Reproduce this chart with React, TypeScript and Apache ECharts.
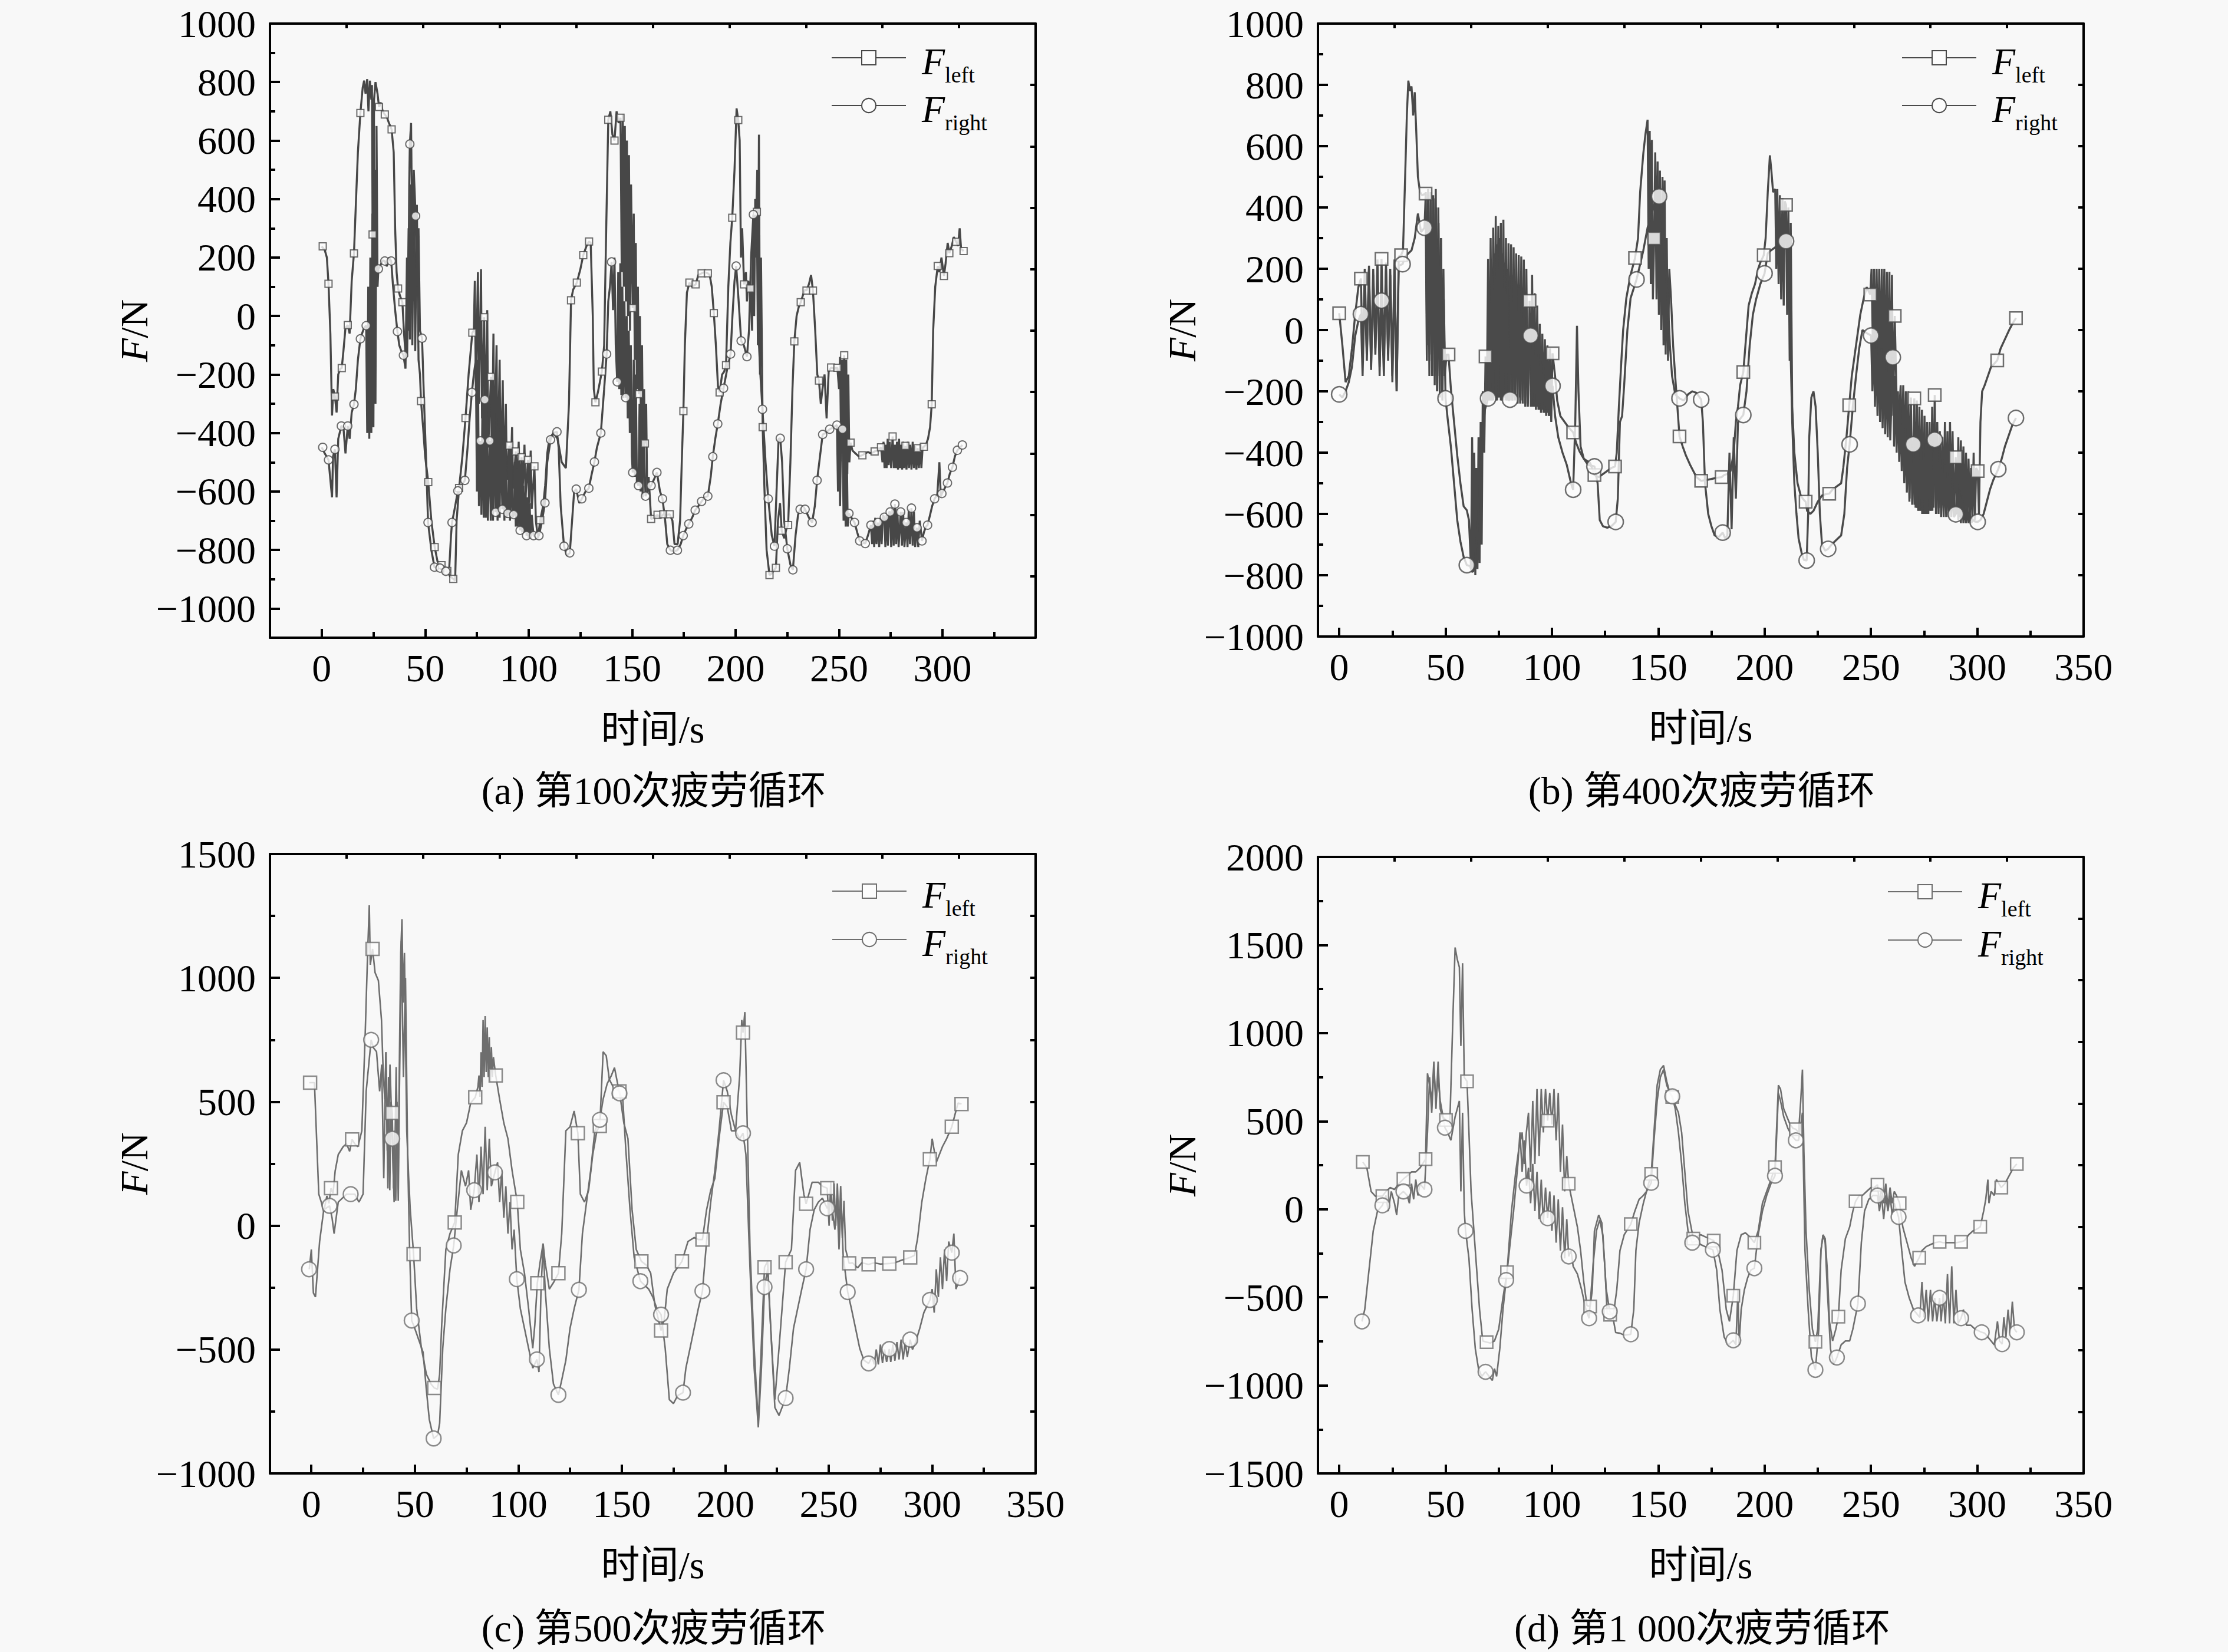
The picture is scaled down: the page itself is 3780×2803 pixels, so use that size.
import React, { useEffect, useRef } from "react";
import * as echarts from "echarts";

type P = [number, number];

// ---------- (a) 第100次 ----------
const aLeft: P[] = [[0,238],[1.5,225],[2.5,200],[3.3,110],[4.2,-60],[5,-340],[5.6,-250],[6.4,-275],[7.2,-330],[8,-200],[9,-180],[9.7,-178],[10.5,-120],[11.5,-40],[12.6,-31],[13.5,-60],[14.5,120],[15.6,214],[16.5,380],[17.5,560],[18.7,694],[19.8,780],[20.5,805],[21.2,760],[22,810],[22.6,700],[23.3,805],[24,740],[24.3,790],[24.6,279],[24.9,-380],[25.3,740],[26,800],[27,760],[27.7,715],[28.5,730],[29.5,700],[30.5,689],[31.5,680],[32.5,660],[33.8,638],[34.8,560],[35.5,300],[36.2,150],[36.9,94],[37.8,70],[39,47],[39.8,-60],[40.5,-127],[41.3,-140],[42,300],[42.6,-80],[43.2,450],[43.8,-100],[44.5,420],[45.2,-120],[46,380],[46.8,-150],[47.5,-200],[48,-291],[49,-380],[50,-480],[51.5,-568],[53,-700],[54.6,-790],[56,-840],[57.9,-852],[59.5,-860],[60.7,-872],[62,-890],[63.6,-899],[64.5,-905],[65.2,-700],[66.4,-588],[68,-480],[69.5,-349],[71,-200],[72.8,-57],[73.5,-50],[74,120],[74.5,-250],[75.5,150],[76,-300],[77,160],[77.5,-350],[78.5,-4],[79,-400],[80,20],[80.5,-450],[81.8,-208],[82.3,-500],[83,-60],[83.5,-520],[84.5,-100],[85,-540],[86,-150],[86.5,-560],[87.5,-220],[88,-560],[89,-300],[89.5,-560],[90.7,-443],[91.2,-580],[92,-380],[92.5,-590],[93.8,-463],[94.3,-600],[95.2,-430],[95.7,-600],[96.6,-483],[97.1,-600],[98,-440],[98.5,-620],[99.7,-492],[100.2,-640],[101,-460],[101.5,-660],[102.8,-514],[103.5,-700],[104.5,-760],[105.6,-698],[107,-650],[108,-580],[109,-470],[110,-420],[112,-400],[114,-420],[116,-500],[118,-520],[119.5,-300],[120.5,54],[121.5,90],[123.3,114],[125,160],[126.4,208],[128,240],[129.2,255],[130,250],[131,0],[131.5,-250],[132.3,-295],[133.5,-260],[135.4,-190],[136.5,-100],[137.5,300],[138.5,671],[139.5,700],[140.5,620],[141.5,600],[142.5,700],[143.5,660],[144.4,678],[145,150],[145.5,690],[146,100],[146.5,650],[147,50],[147.5,600],[148,0],[148.5,550],[149,-50],[149.5,450],[150.3,27],[150.8,350],[151.3,-150],[151.8,250],[152.3,-250],[152.8,100],[153.3,-267],[153.8,0],[154.3,-400],[154.8,-100],[155.3,-500],[155.8,-250],[156.2,-436],[156.8,-300],[157.3,-600],[158,-550],[159.2,-694],[160.5,-690],[162.3,-680],[163.5,-690],[165.1,-678],[166.5,-680],[168.2,-678],[169.5,-700],[170.5,-780],[172,-780],[173.2,-700],[174,-500],[174.8,-325],[175.5,-100],[176.5,80],[177.7,114],[179,100],[180.7,108],[182,140],[183.6,146],[185,150],[186.6,146],[187.5,140],[188.5,100],[189.5,10],[190.5,-100],[191.5,-240],[192.3,-261],[193.5,-200],[194.5,-190],[195.4,-168],[196.5,100],[197.5,250],[198.4,336],[199.5,500],[200.5,710],[201.3,670],[202,600],[202.6,200],[203.2,300],[204.1,108],[205,150],[205.5,50],[206.2,120],[207.2,94],[208,-50],[208.5,300],[209,0],[209.5,400],[210.3,356],[210.8,-100],[211.3,620],[211.8,-200],[212.3,200],[213.1,-380],[214,-600],[215,-800],[216.4,-886],[217.5,-880],[218.5,-870],[219.5,-861],[220.5,-700],[221.5,-640],[222.3,-734],[223.5,-760],[224.5,-730],[225.4,-715],[226.5,-500],[227.5,-250],[228.4,-87],[229.5,0],[230.5,30],[231.5,47],[232.5,70],[233.5,90],[234.3,87],[235.5,110],[236.5,140],[237.4,87],[238.5,-50],[239.5,-200],[240.3,-221],[241.2,-300],[242,-250],[243,-200],[244,-350],[245,-190],[246.2,-176],[247.5,-180],[249.2,-177],[250,-250],[250.5,-140],[251,-450],[251.5,-150],[252,-500],[252.5,-134],[253,-520],[253.5,-150],[254,-540],[254.5,-200],[255,-500],[255.6,-433],[256.5,-460],[258,-470],[259.5,-480],[261.3,-476],[262.5,-470],[264,-465],[265.5,-470],[267.2,-463],[268.5,-460],[270.3,-449],[271,-500],[271.5,-430],[272,-520],[272.5,-440],[273,-520],[273.5,-420],[274,-510],[274.5,-430],[275.2,-520],[275.9,-412],[276.5,-520],[277,-440],[277.5,-520],[278,-430],[278.5,-525],[279,-420],[279.5,-520],[280,-440],[280.5,-525],[281,-430],[281.5,-520],[282.1,-444],[282.6,-525],[283.2,-430],[283.8,-520],[284.4,-440],[285,-525],[285.6,-430],[286.2,-520],[286.8,-445],[287.4,-525],[288,-452],[288.6,-520],[289.2,-440],[289.8,-520],[290.4,-450],[291,-447],[292,-440],[293,-420],[294,-380],[294.8,-302],[295.5,-50],[296.5,100],[297.7,171],[298.5,150],[299.5,200],[300.7,137],[301.5,180],[302.5,250],[303.3,215],[304.5,240],[305.5,270],[306.6,254],[307.5,240],[308.3,300],[309,230],[310.2,222]];
const aLeftMarks: P[] = [[0.5,238],[3.3,110],[6.4,-275],[9.7,-178],[12.6,-31],[15.6,214],[18.7,694],[24.6,279],[27.7,715],[30.5,689],[33.8,638],[36.9,94],[39,47],[48,-291],[51.5,-568],[54.6,-790],[57.9,-852],[60.7,-872],[63.6,-899],[66.4,-588],[69.5,-349],[72.8,-57],[78.5,-4],[81.8,-208],[90.7,-443],[93.8,-463],[96.6,-483],[99.7,-492],[102.8,-514],[105.6,-698],[120.5,54],[123.3,114],[126.4,208],[129.2,255],[132.3,-295],[135.4,-190],[138.5,671],[141.5,600],[144.4,678],[150.3,27],[153.3,-267],[156.2,-436],[159.2,-694],[162.3,-680],[165.1,-678],[168.2,-678],[174.8,-325],[177.7,114],[180.7,108],[183.6,146],[186.6,146],[189.5,10],[192.3,-261],[195.4,-168],[198.4,336],[201.3,670],[204.1,108],[207.2,94],[210.3,356],[213.1,-380],[216.4,-886],[219.5,-861],[222.3,-734],[225.4,-715],[228.4,-87],[231.5,47],[234.3,87],[237.4,87],[240.3,-221],[246.2,-176],[249.2,-177],[252.5,-134],[255.6,-433],[261.3,-476],[267.2,-463],[270.3,-449],[275.9,-412],[282.1,-444],[288,-452],[291,-447],[294.8,-302],[297.7,171],[300.7,137],[303.3,215],[306.6,254],[310.2,222]];
const aRight: P[] = [[0,-449],[1.5,-470],[3.3,-492],[4.2,-560],[5,-620],[5.5,-480],[6.4,-456],[7.2,-620],[8,-420],[9.5,-376],[10.5,-380],[11.5,-470],[12.6,-376],[13.5,-420],[14.5,-330],[15.6,-302],[16.5,-250],[17.5,-150],[18.7,-78],[19.5,-60],[20.5,-40],[21.5,-33],[22,-400],[22.5,100],[23,-420],[23.5,200],[24,-400],[24.5,350],[25,-380],[25.5,500],[26,-300],[26.5,650],[27,100],[27.4,161],[28.5,175],[29.5,190],[30.5,188],[31.5,170],[32.5,200],[33.6,188],[34.5,100],[35.5,20],[36.6,-53],[37.5,-100],[38.5,-120],[39.5,-134],[40.5,-180],[41.2,200],[41.8,-50],[42.3,450],[42.6,588],[43.2,660],[43.8,200],[44.5,500],[45.4,342],[46,100],[46.8,300],[47.5,-50],[48.5,-76],[49.5,-300],[50.5,-500],[51.4,-706],[53,-800],[54.5,-859],[56,-860],[57.2,-862],[58.5,-870],[60,-873],[61.5,-880],[62.5,-750],[63,-706],[64.5,-650],[65.8,-598],[67.5,-580],[69.2,-562],[70.5,-450],[71.5,-350],[72.6,-261],[73.5,-200],[74.5,-150],[75,-600],[75.5,-150],[76,-650],[76.7,-427],[77.2,-680],[77.8,-200],[78.3,-690],[78.8,-286],[79.3,-690],[79.8,-250],[80.3,-700],[81.2,-427],[81.7,-700],[82.3,-300],[82.8,-700],[83.3,-320],[84,-671],[84.5,-350],[85,-700],[85.5,-380],[86,-690],[86.5,-400],[87.3,-661],[87.8,-420],[88.3,-700],[88.8,-450],[89.4,-690],[90,-675],[90.5,-460],[91,-700],[91.5,-480],[92.2,-690],[92.8,-679],[93.3,-500],[93.8,-720],[94.3,-520],[94.8,-720],[95.3,-540],[95.9,-733],[96.4,-560],[96.9,-740],[97.4,-580],[98,-740],[98.5,-600],[99,-751],[99.5,-620],[100,-760],[100.5,-640],[101,-760],[101.5,-680],[102.4,-751],[103.5,-755],[105,-751],[106.5,-700],[107.9,-639],[109,-500],[110.6,-423],[112,-400],[113.7,-396],[114.5,-450],[115.5,-650],[117.1,-787],[118.5,-820],[119.9,-810],[121,-700],[122,-600],[123,-592],[124.5,-640],[125.7,-625],[127.5,-600],[129.1,-589],[130.5,-540],[131.8,-499],[133,-450],[134.9,-400],[136.5,-250],[137.7,-130],[138.5,50],[139.3,100],[140.1,185],[140.8,20],[141.5,200],[142.1,-100],[142.8,-225],[143.3,150],[143.8,-250],[144.3,180],[144.8,-270],[145.3,100],[145.8,-280],[146.3,50],[146.9,-279],[147.4,0],[147.9,-350],[148.4,-50],[148.9,-400],[149.4,-100],[149.9,-480],[150.3,-535],[150.8,-150],[151.3,-550],[151.8,-200],[152.3,-570],[153.1,-580],[153.6,-300],[154.1,-600],[154.6,-350],[155.1,-620],[155.6,-400],[156.5,-616],[157.5,-600],[159.2,-580],[160.5,-560],[162,-535],[163.5,-600],[164.7,-625],[166,-700],[167,-780],[168.5,-801],[170,-805],[171.9,-801],[173.5,-780],[174.7,-751],[176,-730],[177.4,-711],[179,-690],[180.5,-664],[182,-650],[183.6,-634],[185,-620],[186.6,-616],[188,-550],[189,-481],[190.2,-420],[191.4,-369],[192.8,-300],[194.2,-247],[196,-180],[197.6,-130],[198.5,0],[199.5,120],[200.3,171],[201.5,50],[202.7,-85],[204,-100],[205.5,-139],[206.5,-50],[207.5,200],[208.6,347],[209.5,200],[210.5,500],[211,-50],[212,-200],[213,-319],[214.5,-500],[215.8,-625],[217.5,-750],[218.8,-787],[219.8,-600],[220.8,-420],[221.6,-418],[222.5,-500],[223.5,-700],[225,-796],[226.5,-850],[227.7,-868],[229,-750],[230.2,-680],[231.2,-661],[232.5,-650],[233.6,-661],[235.5,-690],[237,-706],[238.3,-650],[239.4,-562],[240.8,-480],[242.1,-405],[243.5,-400],[245.5,-387],[247.5,-380],[249,-373],[249.5,-600],[250,-380],[250.5,-650],[251,-390],[251.7,-387],[252.2,-700],[252.7,-400],[253.2,-720],[253.7,-420],[254.2,-720],[254.8,-675],[256,-690],[257.5,-706],[258.8,-740],[260,-769],[261.5,-775],[262.7,-778],[264,-750],[265.4,-715],[266,-780],[266.5,-700],[267,-790],[267.5,-690],[268.1,-780],[268.8,-706],[269.4,-790],[270,-690],[270.6,-780],[271.2,-680],[271.9,-688],[272.4,-790],[273,-680],[273.6,-785],[274.2,-670],[274.7,-670],[275.2,-790],[275.8,-660],[276.4,-785],[277,-643],[277.6,-780],[278.2,-660],[278.8,-790],[279.8,-670],[280.4,-785],[281,-670],[281.6,-790],[282.5,-706],[283.1,-790],[283.7,-660],[284.3,-780],[285,-657],[285.6,-785],[286.2,-670],[286.8,-790],[287.7,-724],[288.3,-790],[289,-700],[290.1,-769],[291,-740],[292,-720],[292.8,-715],[294,-680],[295,-650],[296.2,-625],[297.5,-610],[298.5,-500],[299.2,-620],[299.7,-607],[301,-590],[302.4,-571],[303.5,-540],[304.8,-517],[306,-480],[307.2,-459],[308.5,-450],[309.6,-441]];
const aRightMarks: P[] = [[0.5,-449],[3.3,-492],[6.4,-456],[9.5,-376],[12.6,-376],[15.6,-302],[18.7,-78],[21.5,-33],[27.4,161],[30.5,188],[33.6,188],[36.6,-53],[39.5,-134],[42.6,588],[45.4,342],[48.5,-76],[51.4,-706],[54.5,-859],[57.2,-862],[60,-873],[63,-706],[65.8,-598],[69.2,-562],[72.6,-261],[76.7,-427],[78.8,-286],[81.2,-427],[84,-671],[87.3,-661],[90,-675],[92.8,-679],[95.9,-733],[99,-751],[102.4,-751],[105,-751],[107.9,-639],[110.6,-423],[113.7,-396],[117.1,-787],[119.9,-810],[123,-592],[125.7,-625],[129.1,-589],[131.8,-499],[134.9,-400],[137.7,-130],[140.1,185],[142.8,-225],[146.9,-279],[150.3,-535],[153.1,-580],[156.5,-616],[159.2,-580],[162,-535],[164.7,-625],[168.5,-801],[171.9,-801],[174.7,-751],[177.4,-711],[180.5,-664],[183.6,-634],[186.6,-616],[189,-481],[191.4,-369],[194.2,-247],[197.6,-130],[200.3,171],[202.7,-85],[205.5,-139],[208.6,347],[213,-319],[215.8,-625],[218.8,-787],[221.6,-418],[225,-796],[227.7,-868],[231.2,-661],[233.6,-661],[237,-706],[239.4,-562],[242.1,-405],[245.5,-387],[249,-373],[251.7,-387],[254.8,-675],[257.5,-706],[260,-769],[262.7,-778],[265.4,-715],[268.8,-706],[271.9,-688],[274.7,-670],[277,-643],[279.8,-670],[282.5,-706],[285,-657],[287.7,-724],[290.1,-769],[292.8,-715],[296.2,-625],[299.7,-607],[302.4,-571],[304.8,-517],[307.2,-459],[309.6,-441]];

// ---------- (b) 第400次 ----------
const bLeft: P[] = [[0,55],[1.5,-50],[3,-170],[4.5,-150],[6,-60],[7.5,50],[9,140],[10.2,168],[11,-100],[12,200],[13,-80],[14,210],[15,-120],[16,200],[17,-60],[18,230],[19,-150],[19.9,232],[21,-100],[22,220],[23,-80],[24,200],[25,-150],[26,230],[27,-200],[28,240],[29.1,244],[30,260],[31,500],[31.8,700],[32.5,814],[33.3,780],[34,795],[34.8,700],[35.5,776],[36.2,654],[37,500],[38,450],[39,440],[40.6,445],[41.2,-100],[41.8,460],[42.4,-150],[43,450],[43.6,-80],[44.2,440],[44.8,-150],[45.4,460],[46,-200],[46.6,400],[47.2,-150],[47.8,300],[48.4,-200],[49,200],[49.6,-150],[50.5,-80],[51.4,-80],[52.5,-191],[54,-300],[55.5,-409],[57,-500],[58.5,-575],[60,-588],[61,-620],[62,-780],[62.5,-350],[63,-790],[63.5,-400],[64,-800],[64.5,-450],[65,-780],[65.5,-350],[66,-760],[66.5,-300],[67,-700],[67.5,-200],[68.2,-400],[68.8,-86],[69.4,-230],[70,232],[70.6,-230],[71.2,300],[71.8,-230],[72.4,334],[73,-220],[73.6,372],[74.2,-230],[74.8,340],[75.4,-220],[76,350],[76.6,-230],[77.2,360],[77.8,-220],[78.4,300],[79,-230],[79.6,283],[80.2,-220],[80.8,280],[81.4,-230],[82,270],[82.6,-220],[83.2,250],[83.8,-230],[84.4,244],[85,-220],[85.6,240],[86.2,-230],[86.8,230],[87.4,-220],[88,200],[88.6,-240],[89.5,95],[90.1,-250],[90.7,180],[91.3,-250],[91.9,120],[92.5,-260],[93.1,80],[93.7,-260],[94.3,20],[94.9,-270],[95.5,-12],[96.1,-270],[96.7,-30],[97.3,-280],[97.9,-50],[98.5,-280],[99.1,-60],[99.7,-300],[100.3,-76],[101.5,-150],[102.5,-230],[104,-281],[106,-300],[108,-319],[110,-334],[111.5,-370],[113,-396],[115,-420],[118,-434],[120,-473],[122,-480],[124,-470],[126,-460],[128,-450],[129.7,-445],[130.5,-400],[131.5,-250],[132.5,-120],[133.5,0],[135,104],[137,180],[139.1,235],[140.5,300],[141.5,450],[143,577],[144,640],[145,686],[145.5,200],[146,650],[146.5,150],[147,620],[147.5,100],[148.1,299],[148.6,580],[149.2,100],[149.7,550],[150.3,50],[150.8,520],[151.4,0],[152,500],[152.5,-50],[153,488],[153.5,-80],[154,300],[154.6,-100],[155.2,200],[156,104],[157,-50],[158,-153],[159,-250],[160,-347],[161.5,-380],[163,-409],[165,-440],[166.5,-460],[168,-480],[170.2,-492],[172,-490],[175,-486],[177.5,-482],[179.8,-480],[181,-473],[182.5,-470],[184,-460],[185.5,-400],[186.5,-300],[187.5,-250],[188.5,-180],[190,-137],[191,-50],[192.5,80],[194,120],[195.5,150],[197,200],[198,220],[199.6,244],[200.5,300],[201.5,450],[202.5,570],[203.2,520],[204,450],[205,460],[205.5,200],[206,460],[206.6,150],[207.2,440],[207.8,100],[208.4,430],[209,80],[209.5,420],[210.1,408],[210.6,50],[211.2,400],[211.8,-100],[212.3,350],[213,-250],[214,-400],[215.5,-500],[217,-540],[218.5,-555],[219.3,-560],[220,-590],[221.5,-600],[223,-590],[225,-560],[227,-540],[229,-535],[230.4,-534],[232,-520],[234,-510],[236,-500],[237,-450],[238.5,-350],[239.8,-245],[241,-150],[242,-100],[243,-50],[244,0],[245,50],[246.5,100],[248,140],[249.7,116],[250.3,200],[250.9,-50],[251.5,200],[252.1,-80],[252.7,200],[253.3,-100],[253.9,200],[254.5,-150],[255.1,200],[255.7,-120],[256.3,200],[256.9,-200],[257.5,190],[258.1,-220],[258.7,190],[259.3,-250],[259.9,180],[260.5,-280],[261.2,46],[262,-200],[263,-300],[264,-180],[264.6,-400],[265.2,-180],[265.8,-450],[266.4,-200],[267,-500],[267.6,-200],[268.2,-550],[268.8,-220],[269.4,-570],[270.4,-223],[271,-580],[271.6,-230],[272.2,-590],[272.8,-250],[273.4,-590],[274,-260],[274.6,-600],[275.2,-280],[275.8,-600],[276.4,-300],[277,-600],[277.6,-300],[278.2,-590],[278.8,-250],[279.4,-580],[280,-212],[280.6,-580],[281.2,-300],[281.8,-580],[282.4,-330],[283,-580],[283.6,-350],[284.2,-580],[284.8,-300],[285.4,-580],[286,-330],[286.6,-590],[287.2,-300],[287.8,-590],[288.4,-330],[289,-600],[289.9,-415],[290.5,-600],[291.1,-350],[291.7,-610],[292.3,-360],[292.9,-610],[293.5,-380],[294.1,-620],[294.7,-400],[295.3,-620],[295.9,-420],[296.5,-620],[297.1,-450],[297.7,-620],[298.3,-400],[298.9,-620],[299.5,-450],[300.2,-460],[300.8,-600],[301.5,-300],[302.3,-200],[303.5,-180],[305,-150],[306.5,-120],[308,-110],[309.4,-99],[311,-60],[313,-30],[315,0],[316.5,20],[318.2,39]];
const bLeftMarks: P[] = [[0,55],[10.2,168],[19.9,232],[29.1,244],[40.6,445],[51.4,-80],[68.8,-86],[89.5,95],[100.3,-76],[110,-334],[120,-473],[129.7,-445],[139.1,235],[148.1,299],[160,-347],[170.2,-492],[179.8,-480],[190,-137],[199.6,244],[210.1,408],[219.3,-560],[230.4,-534],[239.8,-245],[249.7,116],[261.2,46],[270.4,-223],[280,-212],[289.9,-415],[300.2,-460],[309.4,-99],[318.2,39]];
const bRight: P[] = [[0,-210],[1.5,-220],[3,-200],[4.5,-170],[6,-120],[7.5,-20],[9,30],[10.2,52],[11,-150],[12,150],[13,-100],[14,200],[15,-130],[16,180],[17,-80],[18,190],[19,-120],[19.9,96],[21,-150],[22,200],[23,-100],[24,180],[25,-170],[26,200],[27,-200],[28,210],[29.8,215],[31,240],[32.5,250],[34,260],[35.5,300],[37,380],[38.5,320],[40.1,334],[40.7,450],[41.3,-50],[41.9,440],[42.5,-100],[43.1,450],[43.7,-150],[44.3,430],[44.9,-180],[45.5,400],[46.1,-200],[46.7,350],[47.3,-220],[47.9,300],[48.5,-230],[49.2,100],[50,-223],[51,-290],[52.5,-380],[54,-500],[55.5,-620],[57,-690],[58.5,-740],[60,-767],[61.5,-770],[62.5,-790],[63.5,-780],[64.5,-700],[65.5,-600],[66.5,-450],[67.5,-330],[68.5,-260],[70,-223],[70.6,150],[71.2,-230],[71.8,200],[72.4,-230],[73,250],[73.6,-230],[74.2,280],[74.8,-220],[75.4,300],[76,-230],[76.6,250],[77.2,-230],[77.8,220],[78.4,-230],[79,200],[79.6,-230],[80.3,-227],[80.9,180],[81.5,-230],[82.1,160],[82.7,-230],[83.3,150],[83.9,-240],[84.5,140],[85.1,-240],[85.7,130],[86.3,-240],[86.9,100],[87.5,-250],[88.1,50],[88.7,-250],[89.3,0],[90,-18],[90.6,-250],[91.2,-30],[91.8,-250],[92.4,-50],[93,-250],[93.6,-80],[94.2,-260],[94.8,-100],[95.4,-260],[96,-120],[96.6,-270],[97.2,-150],[97.8,-270],[98.4,-160],[99,-280],[100.3,-182],[101.5,-280],[103,-350],[105,-400],[107,-440],[109,-500],[110,-521],[111,-300],[111.8,14],[112.5,-200],[113.5,-380],[115,-420],[117,-440],[120,-445],[121.5,-500],[122.5,-620],[124,-640],[126,-645],[128,-640],[130,-626],[131,-550],[132,-300],[133,-281],[134,-178],[135.5,0],[137,104],[139.8,165],[141,200],[143,260],[145,334],[147,380],[148.5,420],[150.4,436],[151.5,380],[152.5,283],[153.5,200],[154.5,100],[155.5,-50],[156.5,-150],[158,-210],[160,-223],[162,-230],[164,-210],[166,-200],[168,-205],[170.2,-227],[171,-300],[172,-500],[173.5,-600],[175,-640],[176.5,-670],[178.5,-675],[180.3,-661],[181.5,-680],[182.5,-670],[183.5,-400],[184.5,-650],[185.5,-350],[186.5,-550],[187.5,-300],[188.5,-290],[190,-277],[191.5,-200],[193,-50],[194.5,50],[196,100],[198,150],[200,185],[201.5,250],[203,260],[205,270],[206.5,280],[208,285],[210.1,290],[211,250],[212,0],[213,-300],[214,-500],[215,-600],[216,-680],[217.5,-730],[218.5,-750],[219.8,-752],[220.5,-600],[221,-350],[222,-220],[223,-200],[224,-250],[225,-400],[226,-600],[227,-700],[228.5,-720],[229.9,-714],[231.5,-700],[233,-690],[234.5,-680],[236,-670],[237.5,-600],[238.8,-450],[240,-373],[241.5,-250],[243,-150],[244.5,-60],[246,0],[248,-10],[250.1,-18],[250.7,-200],[251.3,0],[251.9,-250],[252.5,-20],[253.1,-280],[253.7,-40],[254.3,-300],[254.9,-60],[255.5,-320],[256.1,-70],[256.7,-340],[257.3,-80],[257.9,-350],[258.5,-85],[259.1,-360],[260.3,-89],[260.9,-380],[261.5,-150],[262.1,-400],[262.7,-200],[263.3,-430],[263.9,-250],[264.5,-460],[265.1,-300],[265.7,-500],[266.3,-320],[266.9,-530],[267.5,-340],[268.1,-560],[268.7,-360],[269.9,-373],[270.5,-570],[271.1,-380],[271.7,-580],[272.3,-380],[272.9,-590],[273.5,-380],[274.1,-600],[274.7,-370],[275.3,-600],[275.9,-370],[276.5,-600],[277.1,-360],[277.7,-590],[278.3,-360],[278.9,-590],[280,-358],[280.6,-600],[281.2,-380],[281.8,-600],[282.4,-400],[283,-610],[283.6,-420],[284.2,-610],[284.8,-440],[285.4,-610],[286,-460],[286.6,-610],[287.2,-480],[287.8,-610],[288.4,-500],[289,-610],[289.9,-601],[290.5,-500],[291.1,-620],[291.7,-520],[292.3,-630],[292.9,-540],[293.5,-630],[294.1,-560],[294.7,-630],[295.3,-580],[295.9,-630],[296.5,-600],[297.1,-630],[298,-620],[299,-625],[300.2,-626],[301.5,-620],[303,-600],[304.5,-560],[306,-520],[307.5,-490],[309.9,-454],[311.5,-420],[313,-380],[315,-340],[316.5,-310],[318.2,-287]];
const bRightMarks: P[] = [[0,-210],[10.2,52],[19.9,96],[29.8,215],[40.1,334],[50,-223],[60,-767],[70,-223],[80.3,-227],[90,-18],[100.3,-182],[110,-521],[120,-445],[130,-626],[139.8,165],[150.4,436],[160,-223],[170.2,-227],[180.3,-661],[190,-277],[200,185],[210.1,290],[219.8,-752],[229.9,-714],[240,-373],[250.1,-18],[260.3,-89],[269.9,-373],[280,-358],[289.9,-601],[300.2,-626],[309.9,-454],[318.2,-287]];

// ---------- (c) 第500次 ----------
const cLeft: P[] = [[-1,577],[1.5,577],[2.4,383],[3.6,127],[4.8,95],[6,56],[7.5,120],[8.5,90],[9.5,151],[10.5,130],[11.5,220],[13,287],[15.4,319],[17,330],[18.5,300],[19.7,348],[21,330],[22.5,319],[24.4,383],[26,766],[27.2,1101],[28,1293],[28.5,1053],[29.6,1117],[30.8,1021],[32.4,989],[33.9,830],[34.8,600],[35.5,510],[36.1,700],[36.7,303],[37.3,600],[37.9,143],[38.5,500],[39.1,455],[39.7,150],[40.2,383],[40.8,100],[41.4,500],[42,200],[42.6,700],[43.2,1100],[43.8,1237],[44.4,900],[45,1101],[45.6,700],[46.1,383],[47,200],[47.8,64],[49.4,-115],[50.9,-335],[53.2,-495],[55.6,-600],[57.9,-640],[59.4,-655],[61,-660],[62,-600],[63,-400],[65,-96],[67,-32],[69.3,13],[71,287],[73,383],[75,415],[77,495],[79.2,518],[80.5,560],[81,606],[81.5,520],[82,700],[82.5,560],[83,830],[83.5,600],[84,846],[84.5,620],[85,800],[85.5,600],[86,760],[86.5,580],[87,720],[87.5,600],[88,680],[89.1,606],[91,510],[93,415],[95,351],[97,223],[99.5,96],[101,-96],[103,-192],[105,-335],[107,-495],[108,-400],[109.2,-232],[110.5,-150],[112,-72],[113,-150],[115,-256],[117,-230],[119.4,-192],[121,-32],[123,383],[125,399],[127,463],[128.8,373],[130,127],[132,95],[134,143],[136,287],[138,383],[139.4,402],[141,702],[142.5,686],[144,590],[146,558],[148.9,542],[151,415],[153,351],[155,64],[157,-96],[159.5,-144],[162,-160],[164,-192],[166,-320],[169,-423],[170.5,-380],[172,-256],[175,-192],[179.1,-144],[182,-64],[185,-48],[187,-56],[189,-56],[191,64],[193,143],[195,191],[197,351],[199.2,498],[201,479],[203,383],[205,383],[207,606],[208,830],[208.6,779],[209.5,862],[210.5,463],[212,-96],[214,-495],[216,-798],[217,-575],[219,-168],[220.5,-144],[222,-415],[224,-702],[226,-495],[229.2,-147],[232,-96],[234,223],[236,255],[238,127],[239.1,88],[242,175],[245,175],[247,159],[249.3,151],[250.2,0],[251,175],[251.8,20],[252.6,170],[253.4,0],[254.2,170],[255,-20],[255.8,160],[256.6,-50],[257.4,100],[258.2,-96],[259.9,-152],[261.5,-150],[264,-170],[266,-150],[269.3,-156],[272,-150],[275,-155],[279.3,-153],[282,-150],[285,-140],[289.4,-128],[291.5,-120],[293,-50],[295,95],[297,191],[298.9,268],[300,351],[302,255],[305,319],[307,351],[309.5,399],[311,447],[312.5,495],[314.2,491]];
const cLeftMarks: P[] = [[-0.6,577],[9.5,151],[19.7,348],[29.6,1117],[39.1,455],[49.4,-115],[59.4,-655],[69.3,13],[79.2,518],[89.1,606],[99.5,96],[109.2,-232],[119.4,-192],[128.8,373],[139.4,402],[148.9,542],[159.5,-144],[169,-423],[179.1,-144],[189,-56],[199.2,498],[208.6,779],[219,-168],[229.2,-147],[239.1,88],[249.3,151],[259.9,-152],[269.3,-156],[279.3,-153],[289.4,-128],[298.9,268],[309.5,399],[314.2,491]];
const cRight: P[] = [[-1,-176],[0,-96],[1,-272],[2,-288],[4,-64],[6,64],[8.8,80],[10,32],[11,-32],[13,95],[15,111],[17,127],[19,127],[21,127],[23,95],[25,127],[26.5,542],[28.9,750],[30,718],[31.5,702],[33,542],[34,650],[35,191],[36,700],[37,150],[38,650],[39.1,351],[40,95],[41,640],[42,100],[42.5,500],[43.5,1150],[44.5,600],[45.5,1000],[46.5,300],[47.5,-100],[48.5,-383],[50,-415],[52,-463],[54,-511],[55.5,-655],[57,-782],[59.1,-859],[61,-846],[62,-798],[63.5,-495],[65,-335],[67,-176],[68.8,-80],[70.5,64],[72.5,223],[74.5,159],[76,223],[77,64],[78.7,143],[80,287],[81,95],[82,319],[83,127],[84,399],[85,143],[86,351],[87,159],[88.7,215],[90,255],[91,95],[92,223],[93,32],[94,159],[95,-32],[96,95],[97,-96],[98,-16],[99.3,-216],[101,-335],[103,-415],[105,-495],[107,-575],[109,-540],[110,-591],[111,-256],[112,-80],[113,-256],[115,-495],[117,-639],[119.4,-683],[121,-623],[123,-543],[125,-415],[127,-335],[129.3,-259],[131,-32],[133,95],[135,223],[137,383],[139.4,427],[141,510],[143,574],[145,606],[146.5,638],[148.9,534],[150.5,510],[152,303],[154,64],[156,-128],[159,-224],[161,-240],[163,-256],[165,-288],[167,-335],[169,-359],[171,-495],[173,-702],[175,-718],[177,-686],[179.6,-674],[181,-575],[183,-495],[185,-415],[187,-335],[189,-264],[191,-64],[193,95],[195,223],[197,383],[199.2,587],[201,542],[203,447],[205,383],[207,351],[208.6,373],[210,287],[212,-176],[214,-575],[216,-814],[217.5,-575],[219,-248],[220.5,-176],[222,-415],[224,-734],[226,-766],[229.2,-696],[231,-575],[233,-415],[235,-335],[237,-256],[239.1,-176],[241,-16],[243,64],[245,95],[247,111],[249.3,70],[251,111],[253,-16],[254,110],[255,-96],[256,110],[257,-120],[259.2,-268],[261,-335],[263,-415],[265,-495],[267,-543],[269.3,-556],[271,-530],[272,-560],[273,-500],[274,-560],[275,-480],[276,-555],[277,-500],[278,-550],[279.3,-498],[280,-550],[281,-480],[282,-545],[283,-470],[284,-540],[285,-460],[286,-540],[287,-470],[288,-530],[289.4,-460],[290.5,-500],[292,-470],[294,-415],[296,-351],[298.9,-300],[300,-256],[301,-351],[302,-176],[303,-288],[304,-128],[305,-256],[306,-96],[307,-224],[308,-64],[309.5,-109],[310.5,-32],[311.5,-256],[313.5,-211]];
const cRightMarks: P[] = [[-1.1,-176],[8.8,80],[19,127],[28.9,750],[39.1,351],[48.5,-383],[59.1,-859],[68.8,-80],[78.7,143],[88.7,215],[99.3,-216],[109,-540],[119.4,-683],[129.3,-259],[139.4,427],[148.9,534],[159,-224],[169,-359],[179.6,-674],[189,-264],[199.2,587],[208.6,373],[219,-248],[229.2,-696],[239.1,-176],[249.3,70],[259.2,-268],[269.3,-556],[279.3,-498],[289.4,-460],[298.9,-300],[309.5,-109],[313.5,-211]];

// ---------- (d) 第1 000次 ----------
const dLeft: P[] = [[11.1,268],[13,235],[15,101],[17,74],[20.3,74],[22,101],[24,123],[26,112],[28,145],[30.2,172],[32,190],[34,212],[36,212],[38,235],[40.6,284],[41.5,771],[42.5,704],[43.5,615],[44.5,838],[45.5,570],[46.5,838],[47.5,570],[48.5,525],[50.2,507],[52,481],[53.5,1106],[54.5,1486],[55.5,1419],[56.5,1374],[57.2,927],[58,1397],[58.8,749],[60.1,726],[61,436],[62,101],[64,-235],[66,-570],[67.5,-748],[69.3,-755],[71,-760],[73,-748],[75,-681],[77,-503],[78.9,-357],[81,-11],[83,212],[84.5,347],[86,436],[87,257],[88,436],[89,548],[90,212],[91,615],[92,257],[93,682],[94,302],[95,682],[96,436],[97,682],[98,503],[99,660],[100,481],[101,682],[102,391],[103,660],[104,212],[105,481],[106,101],[107,302],[107.9,145],[109,78],[110.5,-11],[112,-101],[113.5,-235],[115,-413],[116.5,-547],[118,-552],[119,-458],[120,-123],[121,-78],[122,-33],[123.5,-78],[125,-346],[126,-592],[127.4,-599],[129,-592],[130.5,-458],[132,-235],[134,-145],[137.1,-85],[139,-11],[141,56],[143,78],[144.5,101],[146.7,201],[148,436],[149.5,704],[151,793],[152.5,816],[154,726],[155.5,659],[156.6,637],[158,592],[159.5,548],[161,436],[162.5,212],[164,-11],[166.5,-167],[168,-156],[170,-145],[172,-156],[174,-167],[176.1,-178],[178,-235],[180,-346],[182,-570],[183.5,-637],[185.3,-491],[187,-235],[189,-145],[191,-134],[193,-156],[195.2,-190],[197,-123],[199,34],[201,101],[203,168],[204.9,239],[206.5,704],[207.5,682],[209,570],[210.5,525],[212,481],[213.5,458],[214.7,454],[216,436],[217,615],[217.8,793],[218.5,324],[219.5,-123],[221,-458],[222.5,-681],[223.9,-753],[225,-681],[226.5,-235],[227.5,-145],[228.5,-167],[229.5,-346],[230.5,-637],[232,-748],[233.5,-681],[234.7,-610],[236,-346],[238,-167],[240,-101],[241.5,-11],[242.8,45],[244.5,78],[246,78],[248,101],[250,123],[251.5,123],[253.1,139],[254,34],[255,123],[256,34],[257,145],[258,11],[259,123],[260,34],[261,101],[262,78],[263.5,34],[265,-101],[267,-190],[269,-279],[270.5,-324],[272.7,-275],[274,-235],[276,-212],[278,-201],[280,-190],[282.3,-185],[284,-190],[286,-190],[288,-190],[290,-190],[292.4,-185],[294,-178],[296,-145],[298,-123],[300,-112],[301.4,-100],[303,-11],[304,56],[305,168],[305.5,34],[306.5,101],[308,78],[309,168],[311.3,123],[313,145],[315,190],[317,235],[318.6,257]];
const dLeftMarks: P[] = [[11.1,268],[20.3,74],[30.2,172],[40.6,284],[50.2,507],[60.1,726],[69.3,-755],[78.9,-357],[98,503],[107.9,145],[118,-552],[127.4,-599],[137.1,-85],[146.7,201],[156.6,637],[166.5,-167],[176.1,-178],[185.3,-491],[195.2,-190],[204.9,239],[214.7,454],[223.9,-753],[234.7,-610],[242.8,45],[253.1,139],[263.5,34],[272.7,-275],[282.3,-185],[292.4,-185],[301.4,-100],[311.3,123],[318.6,257]];
const dRight: P[] = [[10.7,-637],[12,-570],[14,-346],[16,-123],[18,-11],[20.3,22],[22,78],[23,-11],[24.5,101],[26,34],[27,-33],[28,78],[30.2,101],[32,78],[33,34],[34,145],[35,56],[36,168],[37,78],[38,145],[40.1,112],[41.5,436],[42.5,749],[43.5,548],[44.5,793],[45.5,615],[46.5,749],[47.5,615],[48.5,548],[49.7,463],[51,436],[52.5,391],[53.5,458],[54.5,525],[55.5,570],[56.5,615],[57.2,101],[58,548],[58.8,-11],[59.4,-123],[61,-279],[62.5,-570],[64,-793],[65.5,-905],[67,-949],[68.8,-923],[70.5,-949],[72,-972],[73,-905],[74,-949],[75.5,-793],[77,-570],[78.5,-402],[80,-235],[82,-11],[84,257],[85,436],[86,212],[87,391],[88.1,134],[89,235],[90,34],[91,257],[92,-11],[93,212],[94,-56],[95,168],[96,-78],[97,123],[98,-51],[99,101],[100,-123],[101,78],[102,-190],[103,56],[104,-235],[105,11],[106,-279],[107,-56],[107.9,-268],[109,-235],[110,-324],[112,-368],[114,-458],[116,-570],[117.5,-619],[119.5,-300],[121,-120],[122.5,-60],[124,-150],[125.5,-450],[127.2,-581],[128.5,-600],[130,-700],[132,-704],[134,-715],[137.1,-710],[138.5,-570],[139.5,-235],[141,-78],[143,34],[144.5,101],[146.7,150],[148,391],[149.5,615],[151,749],[152.5,793],[154,704],[155.5,659],[156.6,641],[158,570],[159.5,436],[161,257],[162.5,34],[164,-123],[166,-190],[168,-179],[170,-201],[172,-212],[174,-223],[175.7,-230],[177.5,-346],[179,-570],[181,-726],[183,-770],[185.3,-744],[186.5,-770],[187.5,-458],[188,-770],[189,-570],[190.5,-458],[192,-391],[193.5,-346],[195.2,-335],[197,-145],[199,-11],[201,78],[203,145],[204.9,190],[206.5,659],[207.5,615],[209,525],[211,458],[213,414],[214.7,391],[216,391],[217.8,548],[219,-235],[220.5,-570],[222,-838],[223.9,-912],[225.5,-681],[226.5,-235],[227.5,-145],[228.5,-190],[229.5,-458],[231,-793],[232.5,-882],[234,-842],[236,-770],[238,-748],[240,-748],[241.5,-681],[243.9,-536],[245.5,-190],[247,-11],[249,56],[251,78],[253.1,78],[254,-11],[255,78],[256,-56],[257,78],[258,-11],[259,78],[260,-33],[261,34],[263,-44],[264.5,-235],[266,-413],[268,-503],[270,-570],[272.2,-603],[273,-614],[274,-413],[275,-614],[276,-458],[277,-637],[278,-458],[279,-637],[280,-503],[281,-637],[282.3,-503],[283,-637],[284,-480],[285,-648],[286,-368],[287,-648],[288,-324],[289,-648],[290,-458],[291,-648],[292.4,-619],[293.5,-570],[295,-659],[297,-659],[299,-681],[302.1,-699],[303.5,-704],[305,-726],[306.5,-748],[308,-770],[309.5,-637],[310.5,-748],[311.7,-766],[312.5,-614],[313.5,-726],[314.5,-570],[315.5,-704],[316.5,-525],[317.5,-681],[318.6,-699]];
const dRightMarks: P[] = [[10.7,-637],[20.3,22],[30.2,101],[40.1,112],[49.7,463],[59.4,-123],[68.8,-923],[78.5,-402],[88.1,134],[98,-51],[107.9,-268],[117.5,-619],[127.2,-581],[137.1,-710],[146.7,150],[156.6,641],[166,-190],[175.7,-230],[185.3,-744],[195.2,-335],[204.9,190],[214.7,391],[223.9,-912],[234,-842],[243.9,-536],[253.1,78],[263,-44],[272.2,-603],[282.3,-503],[292.4,-619],[302.1,-699],[311.7,-766],[318.6,-699]];

// ---------- axes ticks / labels ----------
const xLabelsA = [0, 50, 100, 150, 200, 250, 300];
const xLabelsBCD = [0, 50, 100, 150, 200, 250, 300, 350];
const xMinor = [25, 75, 125, 175, 225, 275, 325];
const yLabelsAB = [-1000, -800, -600, -400, -200, 0, 200, 400, 600, 800, 1000];
const yMinorAB = [-900, -700, -500, -300, -100, 100, 300, 500, 700, 900];
const yLabelsC = [-1000, -500, 0, 500, 1000, 1500];
const yMinorC = [-750, -250, 250, 750, 1250];
const yLabelsD = [-1500, -1000, -500, 0, 500, 1000, 1500, 2000];
const yMinorD = [-1250, -750, -250, 250, 750, 1250, 1750];
const captions = ["(a) 第100次疲劳循环", "(b) 第400次疲劳循环", "(c) 第500次疲劳循环", "(d) 第1 000次疲劳循环"];

const FONT = "'Liberation Serif', 'Times New Roman', 'Noto Sans CJK SC', serif";
const BG = "#f8f8f8";

const panels = [
  { key: "a", grid: { left: 458, top: 40, width: 1299, height: 1042 }, x: [-25, 345], y: [-1100, 1000], xL: xLabelsA, yL: yLabelsAB, yM: yMinorAB, L: aLeft, R: aRight, LM: aLeftMarks, RM: aRightMarks, color: "#474747", lw: 3.4, sq: 12, ci: 14, bw: 2, leg: [1410, 97, 178], cap: [1109, 1341] },
  { key: "b", grid: { left: 2236, top: 40, width: 1299, height: 1040 }, x: [-10, 350], y: [-1000, 1000], xL: xLabelsBCD, yL: yLabelsAB, yM: yMinorAB, L: bLeft, R: bRight, LM: bLeftMarks, RM: bRightMarks, color: "#4a4a4a", lw: 3.4, sq: 21, ci: 26, bw: 2.5, leg: [3226, 97, 178], cap: [2887, 1341] },
  { key: "c", grid: { left: 458, top: 1449, width: 1299, height: 1051 }, x: [-20, 350], y: [-1000, 1500], xL: xLabelsBCD, yL: yLabelsC, yM: yMinorC, L: cLeft, R: cRight, LM: cLeftMarks, RM: cRightMarks, color: "#6e6e6e", lw: 2.6, sq: 22, ci: 25, bw: 2.5, leg: [1411, 1511, 1593], cap: [1109, 2762] },
  { key: "d", grid: { left: 2236, top: 1454, width: 1299, height: 1046 }, x: [-10, 350], y: [-1500, 2000], xL: xLabelsBCD, yL: yLabelsD, yM: yMinorD, L: dLeft, R: dRight, LM: dLeftMarks, RM: dRightMarks, color: "#6e6e6e", lw: 2.6, sq: 21, ci: 25, bw: 2.5, leg: [3202, 1512, 1594], cap: [2888, 2762] },
];

const fmtY = (v: number) => (v < 0 ? "\u2212" + Math.abs(v) : String(v));

function buildOption() {
  const axisLine = { show: true, onZero: false, lineStyle: { color: "#000", width: 4 } };
  const tickStyle = { color: "#000", width: 4 };
  const labelStyle = { fontFamily: FONT, fontSize: 66, color: "#000" };
  const grid: any[] = [];
  const xAxis: any[] = [];
  const yAxis: any[] = [];
  const series: any[] = [];
  const legend: any[] = [];
  const graphic: any[] = [];
  const rich = {
    f: { fontFamily: FONT, fontStyle: "italic", fontSize: 64, color: "#000", padding: [14, 0, 0, 22] },
    s: { fontFamily: FONT, fontSize: 38, color: "#000", padding: [59, 0, 0, 0] },
  };

  panels.forEach((p, gi) => {
    grid.push({ ...p.grid, containLabel: false });
    xAxis.push(
      {
        type: "value", gridIndex: gi, position: "bottom", min: p.x[0], max: p.x[1],
        name: "时间/s", nameLocation: "middle", nameGap: 122, nameTextStyle: labelStyle,
        axisLine, splitLine: { show: false },
        axisTick: { show: true, inside: true, length: 15, lineStyle: tickStyle, customValues: p.xL },
        axisLabel: { show: true, customValues: p.xL, margin: 18, ...labelStyle, formatter: (v: number) => String(v) },
      },
      {
        type: "value", gridIndex: gi, position: "bottom", min: p.x[0], max: p.x[1],
        axisLine: { show: false, onZero: false }, splitLine: { show: false }, axisLabel: { show: false },
        axisTick: { show: true, inside: true, length: 10, lineStyle: tickStyle, customValues: xMinor },
      },
      {
        type: "value", gridIndex: gi, position: "top", min: 0, max: 10, interval: 1,
        axisLine, splitLine: { show: false }, axisLabel: { show: false },
        axisTick: { show: true, inside: true, length: 8, lineStyle: tickStyle },
      }
    );
    yAxis.push(
      {
        type: "value", gridIndex: gi, position: "left", min: p.y[0], max: p.y[1],
        name: "{i|F}/N", nameLocation: "middle", nameRotate: 90, nameGap: 198,
        nameTextStyle: { ...labelStyle, rich: { i: { fontFamily: FONT, fontSize: 66, fontStyle: "italic", color: "#000" } } },
        axisLine, splitLine: { show: false },
        axisTick: { show: true, inside: true, length: 17, lineStyle: tickStyle, customValues: p.yL },
        axisLabel: { show: true, customValues: p.yL, margin: 24, ...labelStyle, lineHeight: 50, formatter: fmtY },
      },
      {
        type: "value", gridIndex: gi, position: "left", min: p.y[0], max: p.y[1],
        axisLine: { show: false, onZero: false }, splitLine: { show: false }, axisLabel: { show: false },
        axisTick: { show: true, inside: true, length: 9, lineStyle: tickStyle, customValues: p.yM },
      },
      {
        type: "value", gridIndex: gi, position: "right", min: 0, max: 10, interval: 1,
        axisLine, splitLine: { show: false }, axisLabel: { show: false },
        axisTick: { show: true, inside: true, length: 9, lineStyle: tickStyle },
      }
    );
    const xi = gi * 3;
    const yi = gi * 3;
    const mk = (name: string, data: P[], marks: P[], sym: string, size: number) => {
      series.push({
        type: "line", name, xAxisIndex: xi, yAxisIndex: yi, data, showSymbol: false, symbol: sym, symbolSize: size,
        lineStyle: { color: p.color, width: p.lw }, itemStyle: { color: "#fcfcfc", borderColor: p.color, borderWidth: p.bw },
        silent: true, z: 2, emphasis: { disabled: true },
      });
      series.push({
        type: "scatter", name: name + "_m", xAxisIndex: xi, yAxisIndex: yi, data: marks, symbol: sym, symbolSize: size,
        itemStyle: { color: "#fcfcfc", borderColor: p.color, borderWidth: p.bw }, silent: true, z: 3,
      });
    };
    mk(p.key + "L", p.L, p.LM, "rect", p.sq);
    mk(p.key + "R", p.R, p.RM, "circle", p.ci);
    [p.key + "L", p.key + "R"].forEach((nm, k) => {
      legend.push({
        data: [nm], left: p.leg[0], top: p.leg[1 + k] - 24, orient: "horizontal", itemWidth: 126, itemHeight: 30,
        padding: 0, selectedMode: false,
        formatter: (n: string) => (n.endsWith("L") ? "{f|F}{s|left}" : "{f|F}{s|right}"),
        textStyle: { rich },
      });
    });
    graphic.push({
      type: "text", x: p.cap[0], y: p.cap[1], silent: true,
      style: { text: captions[gi], fontFamily: FONT, fontSize: 66, fill: "#000", textAlign: "center", textVerticalAlign: "middle" },
    });
  });

  return { animation: false, backgroundColor: BG, textStyle: { fontFamily: FONT }, grid, xAxis, yAxis, series, legend, graphic };
}

export default function App() {
  const ref = useRef<HTMLDivElement>(null);
  useEffect(() => {
    document.body.style.margin = "0";
    document.body.style.background = BG;
    if (!ref.current) return;
    const chart = echarts.init(ref.current, null, { renderer: "svg", width: 3780, height: 2803 });
    chart.setOption(buildOption() as any);
    return () => chart.dispose();
  }, []);
  return <div ref={ref} style={{ width: 3780, height: 2803, background: BG }} />;
}
